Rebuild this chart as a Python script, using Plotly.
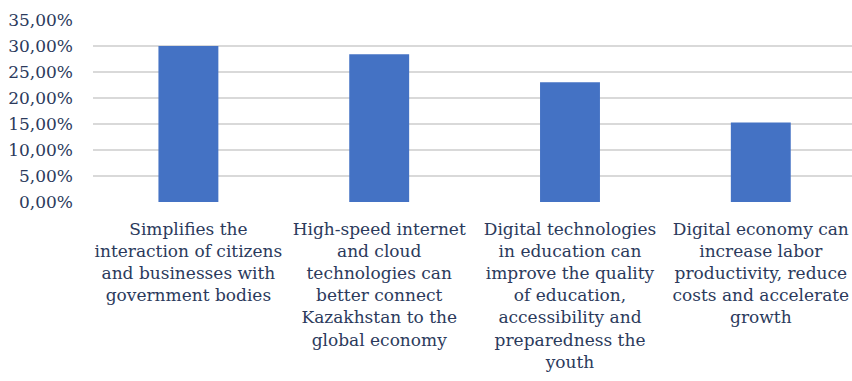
import plotly.graph_objects as go

categories = [
    "Simplifies the<br>interaction of citizens<br>and businesses with<br>government bodies",
    "High-speed internet<br>and cloud<br>technologies can<br>better connect<br>Kazakhstan to the<br>global economy",
    "Digital technologies<br>in education can<br>improve the quality<br>of education,<br>accessibility and<br>preparedness the<br>youth",
    "Digital economy can<br>increase labor<br>productivity, reduce<br>costs and accelerate<br>growth",
]
values = [0.30, 0.284, 0.2303, 0.1529]
tick_vals = [0, 0.05, 0.10, 0.15, 0.20, 0.25, 0.30, 0.35]
tick_text = ["0,00%", "5,00%", "10,00%", "15,00%", "20,00%", "25,00%", "30,00%", "35,00%"]

text_color = "#2b3a5c"
font_family = "DejaVu Serif"

fig = go.Figure(
    go.Bar(
        x=list(range(len(categories))),
        y=values,
        width=0.314,
        marker=dict(color="#4472C4", line=dict(width=0)),
        hoverinfo="skip",
    )
)

fig.update_layout(
    width=852,
    height=381,
    margin=dict(l=93, r=0, t=20, b=179),
    paper_bgcolor="white",
    plot_bgcolor="white",
    showlegend=False,
    font=dict(family=font_family, color=text_color, size=17),
    xaxis=dict(
        range=[-0.5, 3.478],
        tickmode="array",
        tickvals=list(range(len(categories))),
        ticktext=categories,
        tickangle=0,
        showgrid=False,
        zeroline=False,
        showline=False,
        ticks="",
        tickfont=dict(size=17, family=font_family, color=text_color),
        ticklabelstandoff=15,
    ),
    yaxis=dict(
        range=[0, 0.35],
        tickmode="array",
        tickvals=tick_vals,
        ticktext=tick_text,
        showgrid=True,
        gridcolor="#d9d9d9",
        gridwidth=1.5,
        zeroline=False,
        showline=False,
        ticks="",
        tickfont=dict(size=17, family=font_family, color=text_color),
        ticklabelstandoff=19,
    ),
)

fig.write_html("out.html")
